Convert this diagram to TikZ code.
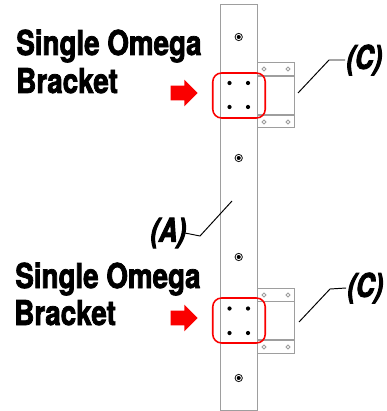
\documentclass[tikz,border=0pt]{standalone}
\usepackage{fontspec}
\usetikzlibrary{calc, shapes.arrows}
\newfontfamily\labelfont[FakeStretch=0.81,FakeBold=2.2]{TeX Gyre Heros Bold}
\newfontfamily\partfont[FakeStretch=0.78,FakeSlant=0.2,FakeBold=3]{TeX Gyre Heros Bold}
\definecolor{plategray}{gray}{0.62}
\definecolor{markred}{RGB}{250,0,0}
\tikzstyle{plate} = [rectangle, inner sep=0pt, draw=plategray, line width=0.45pt, fill=white]
\tikzstyle{fold} = [draw=plategray, line width=0.8pt]
\tikzstyle{bolt} = [circle, inner sep=0pt, minimum size=2.4pt, fill=black]
\tikzstyle{screw} = [circle, inner sep=0pt, minimum size=2.2pt, draw=plategray, line width=0.5pt, fill=white]
\tikzstyle{anchorhole} = [circle, inner sep=0pt, minimum size=3pt, fill=black, double=white, draw=black, line width=0.5pt, double distance=0.5pt]
\tikzstyle{markbox} = [rectangle, rounded corners=5pt, minimum width=1.05cm, minimum height=0.9cm, inner sep=0pt, draw=markred, line width=0.9pt]
\tikzstyle{pointer} = [single arrow, single arrow head extend=0.12cm, single arrow tip angle=90, minimum height=0.54cm, inner xsep=0pt, inner ysep=0.14cm, fill=markred]
\tikzstyle{title} = [anchor=base west, inner sep=0pt, font=\labelfont\fontsize{19.5}{19.5}\selectfont]
\tikzstyle{part} = [inner sep=0pt, font=\partfont\fontsize{18.5}{18.5}\selectfont]
\tikzstyle{leader} = [draw=black, line width=0.55pt]
\begin{document}
\begin{tikzpicture}[x=0.02cm, y=-0.02cm]
	\useasboundingbox (0,0) rectangle (386,411);
	% brackets behind the post
	\node(brackettop)[plate, minimum width=0.74cm, minimum height=1.3cm] at (275.5,94.5) {};
	\node(bracketlow)[plate, minimum width=0.74cm, minimum height=1.3cm] at (275.5,320.5) {};
	\draw [fold] (257,76) -- (295,76);
	\draw [fold] (257,115) -- (295,115);
	\draw [fold] (257,301.5) -- (295,301.5);
	\draw [fold] (257,340) -- (295,340);
	\foreach \y in {69,122,295,347}
		\foreach \x in {264,288}
			\node[screw] at (\x,\y) {};
	% post
	\node(post)[plate, minimum width=0.74cm, minimum height=8.12cm] at (238.5,207) {};
	\foreach \y/\name in {37/holea, 158/holeb, 257/holec, 378/holed}
		\node(\name)[anchorhole] at (238.7,\y) {};
	\foreach \y in {83,107,308.5,333}
		\foreach \x in {229.5,248}
			\node[bolt] at (\x,\y) {};
	% red marks
	\node(marktop)[markbox] at (239,95.5) {};
	\node(marklow)[markbox] at (239,320.5) {};
	\node(arrowtop)[pointer] at (180.5,93) {};
	\node(arrowlow)[pointer] at (180.5,318) {};
	% Labels
	\node(titletop)[title] at (16,55) {Single Omega};
	\node(brackettext)[title] at (16,93) {Bracket};
	\node(titlelow)[title] at (15,288) {Single Omega};
	\node(bracketlowtext)[title] at (14,325) {Bracket};
	\node(parta)[part] at (167,233) {(A)};
	\node(partc)[part] at (363,60) {(C)};
	\node(partd)[part] at (364,288) {(C)};
	\coordinate(enda) at (232,201);
	\coordinate(endc) at (298,93);
	\coordinate(endd) at (299,322);
	\draw [leader] (parta.east) -- (200,236) -- (enda);
	\draw [leader] (partc.west) -- (329,60) -- (endc);
	\draw [leader] (partd.west) -- (330,289) -- (endd);
\end{tikzpicture}
\end{document}
